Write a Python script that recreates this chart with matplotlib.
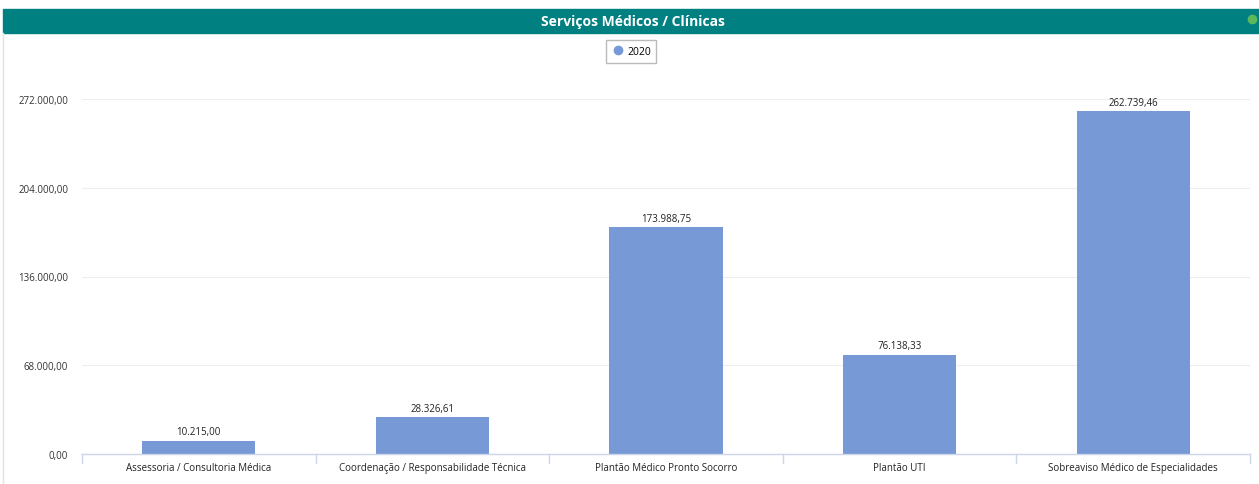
import matplotlib.pyplot as plt
from matplotlib.lines import Line2D
from matplotlib.patches import Rectangle

categories = [
    "Assessoria / Consultoria Médica",
    "Coordenação / Responsabilidade Técnica",
    "Plantão Médico Pronto Socorro",
    "Plantão UTI",
    "Sobreaviso Médico de Especialidades",
]
values = [10215.00, 28326.61, 173988.75, 76138.33, 262739.46]
value_labels = ["10.215,00", "28.326,61", "173.988,75", "76.138,33", "262.739,46"]
yticks = [0, 68000, 136000, 204000, 272000]
ytick_labels = ["0,00", "68.000,00", "136.000,00", "204.000,00", "272.000,00"]

BAR = "#7799d6"
TEAL = "#008080"
FONT = "Open Sans"

W, H = 1259, 485
fig = plt.figure(figsize=(W / 100, H / 100), dpi=100)

# header band
fig.patches.append(Rectangle((3 / W, 1 - 34 / H), 1 - 3 / W, 24 / H,
                             transform=fig.transFigure, color=TEAL, zorder=0))
fig.text(633 / W, 1 - 22 / H, "Serviços Médicos / Clínicas", color="white",
         fontsize=10, fontweight="bold", ha="center", va="center",
         family=FONT)
fig.add_artist(Line2D([1252 / W], [1 - 20 / H], marker="o", markersize=6,
                      color="#5cb85c", transform=fig.transFigure))
# left frame line
fig.add_artist(Line2D([3 / W, 3 / W], [0, 1 - 34 / H], color="#e3e3e3",
                      lw=1, transform=fig.transFigure))

ax = fig.add_axes([82 / W, 1 - 455 / H, (1250 - 82) / W, (455 - 100) / H])
x = list(range(len(categories)))
ax.bar(x, values, width=0.485, color=BAR, zorder=2)
for xi, v, lab in zip(x, values, value_labels):
    ax.text(xi, v + 2500, lab, ha="center", va="bottom", fontsize=7,
            family=FONT, color="#222222")

ax.set_xlim(-0.5, len(categories) - 0.5)
ax.set_ylim(0, 272000)
ax.set_yticks(yticks)
ax.set_yticklabels(ytick_labels, fontsize=7, family=FONT, color="#333333")
ax.set_xticks(x)
ax.set_xticklabels(categories, fontsize=7, family=FONT, color="#222222")
ax.tick_params(axis="y", length=0, pad=10)
ax.tick_params(axis="x", length=0, pad=6)
ax.grid(axis="y", color="#eeeeee", lw=0.8, zorder=0)
ax.set_axisbelow(True)
for s in ["top", "right", "left"]:
    ax.spines[s].set_visible(False)
ax.spines["bottom"].set_color("#ccd6eb")
ax.spines["bottom"].set_linewidth(1)
ax.spines["bottom"].set_zorder(3)
# category separator ticks
for b in [i - 0.5 for i in range(len(categories) + 1)]:
    ax.plot([b, b], [0, -7000], color="#ccd6eb", lw=1, clip_on=False, zorder=3)

handle = Line2D([0], [0], marker="o", color="w", markerfacecolor=BAR,
                markeredgecolor=BAR, markersize=6, label="2020")
fig.legend(handles=[handle], loc="center", bbox_to_anchor=(631 / W, 1 - 52.5 / H),
           frameon=True, fancybox=False, edgecolor="#aaaaaa",
           prop={"family": FONT, "size": 7.5}, handletextpad=0.3,
           borderpad=0.55, handlelength=1.2, borderaxespad=0)

fig.savefig("out.png", dpi=100)
